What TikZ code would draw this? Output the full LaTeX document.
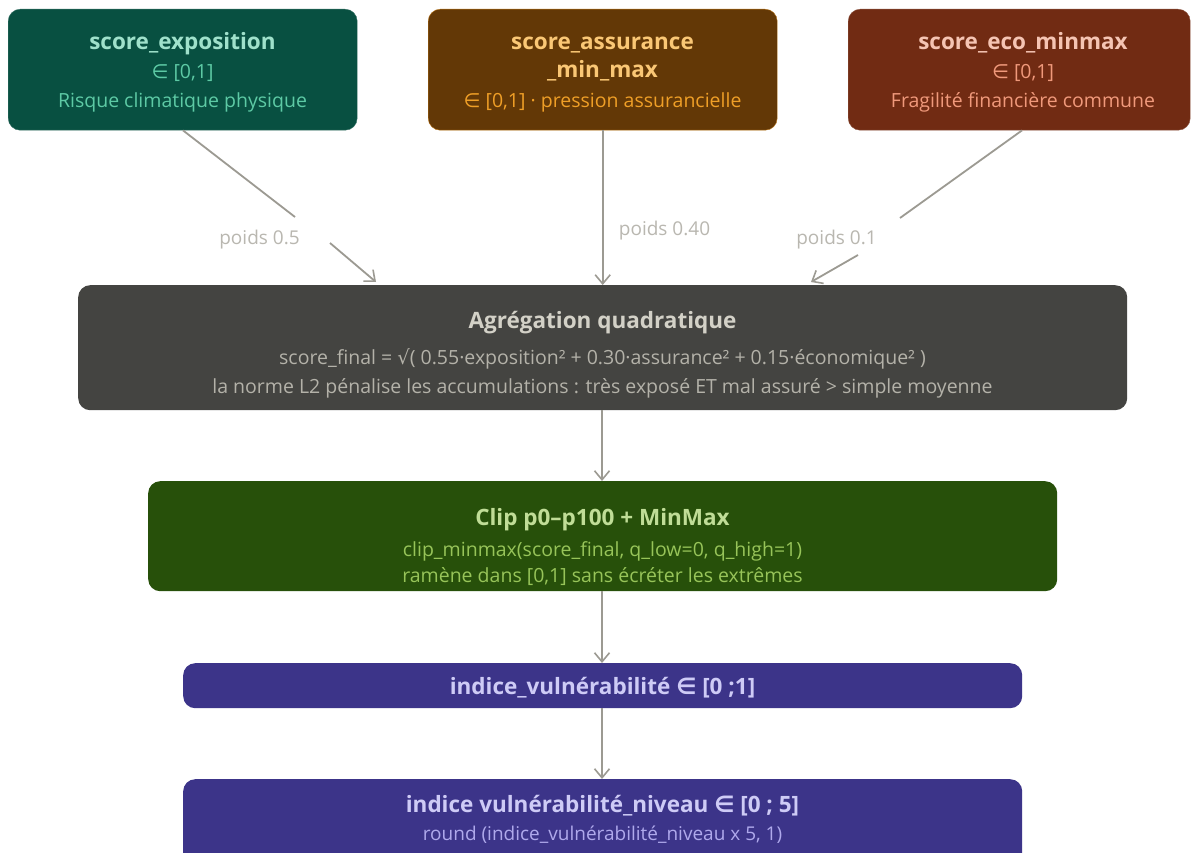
\documentclass[tikz,border=0pt]{standalone}
\usepackage{fontspec}
\setmainfont{Open Sans}
\newfontfamily\symf{DejaVu Sans}
\usetikzlibrary{arrows.meta}

\definecolor{tealfill}{HTML}{085041}
\definecolor{tealtitle}{HTML}{9FE1CB}
\definecolor{tealsub}{HTML}{5DCAA5}
\definecolor{amberfill}{HTML}{633806}
\definecolor{amberline}{HTML}{BA7517}
\definecolor{ambertitle}{HTML}{FAC775}
\definecolor{ambersub}{HTML}{EF9F27}
\definecolor{coralfill}{HTML}{712B13}
\definecolor{coraltitle}{HTML}{F5C4B3}
\definecolor{coralsub}{HTML}{F0997B}
\definecolor{grayfill}{HTML}{444441}
\definecolor{graytitle}{HTML}{D3D1C7}
\definecolor{graysub}{HTML}{B4B2A9}
\definecolor{greenfill}{HTML}{27500A}
\definecolor{greentitle}{HTML}{C0DD97}
\definecolor{greensub}{HTML}{97C459}
\definecolor{purplefill}{HTML}{3C3489}
\definecolor{purpletitle}{HTML}{CECBF6}
\definecolor{purplesub}{HTML}{AFA9EC}
\definecolor{flow}{HTML}{9C9A92}
\definecolor{weight}{HTML}{B9B7B0}

\newcommand{\sy}[1]{{\symf #1}}

\tikzset{
  box/.style={rounded corners=12pt, inner sep=0pt, anchor=north west},
  ttl/.style={anchor=base, font=\fontsize{22.5}{26}\selectfont\bfseries},
  sub/.style={anchor=base, font=\fontsize{19.5}{23}\selectfont},
  wlabel/.style={anchor=base, text=weight, font=\fontsize{19}{22}\selectfont},
  flowarrow/.style={draw=flow, line width=1.8pt, -{Straight Barb[length=9pt,width=15pt,line width=1.6pt]}},
  flowline/.style={draw=flow, line width=1.8pt}
}

\begin{document}
\begin{tikzpicture}[x=1pt,y=-1pt]
\useasboundingbox[fill=white] (0,0) rectangle (1191,853);

% source scores
\node[box, fill=tealfill, draw=tealfill!80!white, minimum width=349pt, minimum height=121pt] (expo) at (8,9) {};
\node[ttl, text=tealtitle] (expoA) at (182.5,50) {score\_exposition};
\node[sub, text=tealsub] (expoB) at (182.5,79) {\sy{∈} [0,1]};
\node[sub, text=tealsub] (expoC) at (182.5,108) {Risque climatique physique};

\node[box, fill=amberfill, draw=amberline, minimum width=349pt, minimum height=121pt] (assu) at (428,9) {};
\node[ttl, text=ambertitle] (assuA) at (602.5,50) {score\_assurance};
\node[ttl, text=ambertitle] (assuB) at (602.5,78) {\_min\_max};
\node[sub, text=ambersub] (assuC) at (602.5,108) {\sy{∈} [0,1] · pression assurancielle};

\node[box, fill=coralfill, draw=coralfill!80!white, minimum width=342pt, minimum height=121pt] (eco) at (848,9) {};
\node[ttl, text=coraltitle] (ecoA) at (1023,50) {score\_eco\_minmax};
\node[sub, text=coralsub] (ecoB) at (1023,79) {\sy{∈} [0,1]};
\node[sub, text=coralsub] (ecoC) at (1023,108) {Fragilité financière commune};

% aggregation
\node[box, fill=grayfill, minimum width=1049pt, minimum height=125pt] (agg) at (78,285) {};
\node[ttl, text=graytitle] (aggA) at (602.5,328) {Agrégation quadratique};
\node[sub, text=graysub] (aggB) at (602.5,364) {score\_final = \sy{√}( 0.55·exposition² + 0.30·assurance² + 0.15·économique² )};
\node[sub, text=graysub] (aggC) at (602.5,393) {la norme L2 pénalise les accumulations : très exposé ET mal assuré > simple moyenne};

% normalisation
\node[box, fill=greenfill, minimum width=909pt, minimum height=110pt] (clip) at (148,481) {};
\node[ttl, text=greentitle] (clipA) at (602.5,525) {Clip p0–p100 + MinMax};
\node[sub, text=greensub] (clipB) at (602.5,556) {clip\_minmax(score\_final, q\_low=0, q\_high=1)};
\node[sub, text=greensub] (clipC) at (602.5,582) {ramène dans [0,1] sans écréter les extrêmes};

% outputs
\node[box, fill=purplefill, minimum width=839pt, minimum height=45pt] (idx) at (183,663) {};
\node[ttl, text=purpletitle] (idxA) at (602.5,694) {indice\_vulnérabilité \sy{∈} [0 ;1]};

\node[box, fill=purplefill, minimum width=839pt, minimum height=90pt] (lvl) at (183,779) {};
\node[ttl, text=purpletitle] (lvlA) at (602.5,812) {indice vulnérabilité\_niveau \sy{∈} [0 ; 5]};
\node[sub, text=purplesub, font=\fontsize{19}{22}\selectfont] (lvlB) at (602.5,840) {round (indice\_vulnérabilité\_niveau x 5, 1)};

% weighted inputs
\coordinate (w1a) at (295,217);
\coordinate (w1b) at (330,243);
\coordinate (w1t) at (376,282);
\coordinate (w3a) at (900,218);
\coordinate (w3b) at (858,255);
\coordinate (w3t) at (811,282);
\draw[flowline] (expo.south -| 183,0) -- (w1a);
\draw[flowarrow] (w1b) -- (w1t);
\node[wlabel] (l1) at (259.5,244) {poids 0.5};
\draw[flowarrow] (assu.south) -- (assu.south |- agg.north);
\node[wlabel] (l2) at (664.5,236) {poids 0.40};
\draw[flowline] (eco.south -| 1022,0) -- (w3a);
\draw[flowarrow] (w3b) -- (w3t);
\node[wlabel] (l3) at (836.5,244) {poids 0.1};

% pipeline
\draw[flowarrow] (agg.south -| 602,0) -- (clip.north -| 602,0);
\draw[flowarrow] (clip.south -| 602,0) -- (idx.north -| 602,0);
\draw[flowarrow] (idx.south -| 602,0) -- (lvl.north -| 602,0);
\end{tikzpicture}
\end{document}
